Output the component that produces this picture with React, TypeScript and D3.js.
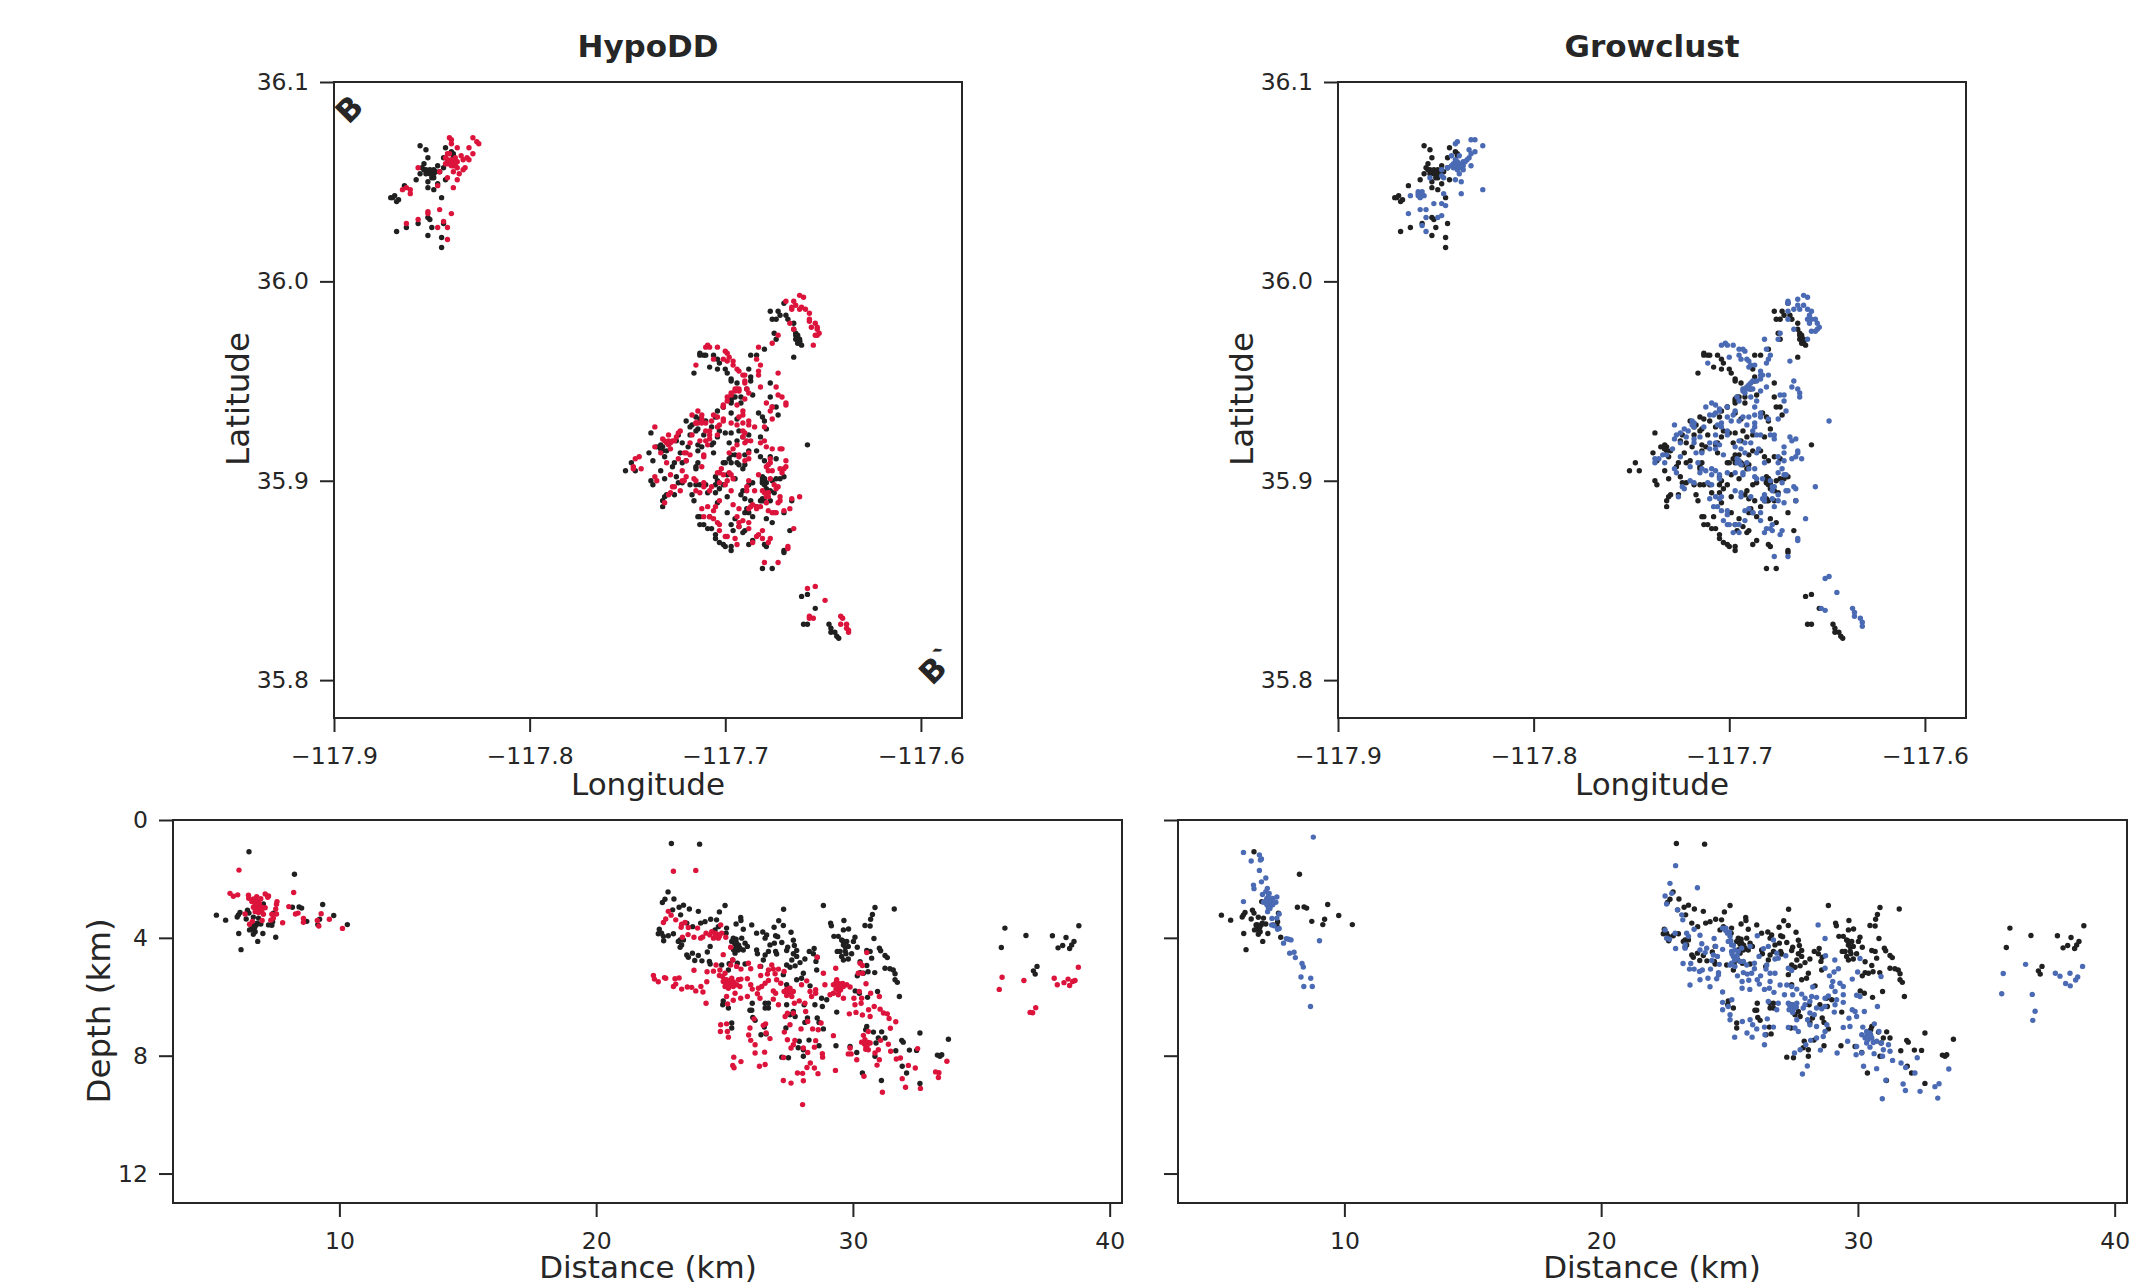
import React, { useEffect, useRef } from 'react';
import * as d3 from 'd3';

type Pair = [number, number];

const lonTicks = [-117.9, -117.8, -117.7, -117.6];
const latTicks = [36.1, 36.0, 35.9, 35.8];
const distTicks = [10, 20, 30, 40];
const depthTicks = [0, 4, 8, 12];

// routine catalog, map view (lon, lat)
const catalogMap: Pair[] = [
  [-117.856,36.068],[-117.853,36.066],[-117.843,36.067],[-117.839,36.064],[-117.852,36.062],[-117.844,36.062],[-117.854,36.059],[-117.855,36.057],[-117.847,36.058],[-117.844,36.057],
  [-117.854,36.056],[-117.852,36.055],[-117.850,36.055],[-117.849,36.056],[-117.851,36.054],[-117.856,36.054],[-117.850,36.052],[-117.849,36.052],[-117.846,36.055],[-117.858,36.051],
  [-117.852,36.050],[-117.843,36.051],[-117.847,36.049],[-117.852,36.047],[-117.849,36.046],[-117.864,36.048],[-117.845,36.042],[-117.869,36.043],[-117.871,36.042],[-117.870,36.042],
  [-117.868,36.040],[-117.867,36.041],[-117.852,36.032],[-117.851,36.031],[-117.857,36.029],[-117.863,36.027],[-117.868,36.025],[-117.850,36.027],[-117.844,36.029],[-117.852,36.023],
  [-117.845,36.022],[-117.845,36.017],[-117.840,36.065],[-117.839,36.063],
  [-117.853,36.056],[-117.851,36.056],[-117.848,36.055],[-117.853,36.054],[-117.849,36.054],
  [-117.670,35.989],[-117.677,35.985],[-117.673,35.985],[-117.672,35.983],[-117.676,35.981],[-117.674,35.981],[-117.669,35.983],[-117.668,35.981],[-117.665,35.979],[-117.665,35.976],
  [-117.664,35.974],[-117.663,35.973],[-117.664,35.971],[-117.662,35.971],[-117.662,35.970],[-117.661,35.968],[-117.663,35.969],[-117.675,35.974],[-117.674,35.971],[-117.680,35.966],
  [-117.684,35.963],[-117.687,35.963],[-117.665,35.962],[-117.713,35.964],[-117.713,35.963],[-117.711,35.963],[-117.710,35.963],[-117.706,35.963],[-117.704,35.961],[-117.703,35.959],
  [-117.708,35.957],[-117.704,35.956],[-117.700,35.956],[-117.699,35.954],[-117.697,35.951],[-117.697,35.950],[-117.716,35.954],[-117.688,35.956],[-117.687,35.952],[-117.687,35.950],
  [-117.677,35.949],[-117.694,35.949],[-117.689,35.946],[-117.686,35.943],[-117.677,35.942],[-117.692,35.942],[-117.697,35.940],[-117.695,35.942],[-117.692,35.939],[-117.697,35.939],
  [-117.701,35.937],[-117.704,35.935],[-117.705,35.932],[-117.697,35.934],[-117.694,35.931],[-117.683,35.934],[-117.681,35.932],[-117.680,35.930],[-117.673,35.933],[-117.674,35.937],
  [-117.679,35.926],[-117.676,35.937],[-117.713,35.931],[-117.715,35.932],[-117.720,35.930],[-117.714,35.926],[-117.715,35.925],[-117.718,35.927],[-117.717,35.928],[-117.738,35.924],
  [-117.710,35.930],[-117.707,35.927],[-117.703,35.925],[-117.700,35.924],[-117.697,35.924],[-117.693,35.925],[-117.688,35.923],[-117.682,35.922],[-117.684,35.915],[-117.682,35.912],
  [-117.680,35.910],[-117.674,35.911],[-117.677,35.912],[-117.670,35.902],[-117.658,35.918],[-117.688,35.915],[-117.694,35.920],[-117.698,35.919],[-117.691,35.922],[-117.707,35.918],
  [-117.706,35.919],[-117.706,35.914],[-117.704,35.922],[-117.711,35.923],[-117.718,35.923],[-117.722,35.919],[-117.723,35.914],[-117.719,35.917],[-117.722,35.909],[-117.720,35.910],
  [-117.726,35.909],[-117.727,35.907],[-117.733,35.905],[-117.731,35.901],[-117.725,35.902],[-117.737,35.910],[-117.739,35.914],[-117.731,35.912],[-117.733,35.916],[-117.733,35.918],
  [-117.735,35.917],[-117.732,35.915],[-117.730,35.915],[-117.725,35.920],[-117.724,35.923],[-117.746,35.905],[-117.748,35.909],[-117.751,35.905],[-117.714,35.918],[-117.712,35.917],
  [-117.714,35.915],[-117.714,35.909],[-117.715,35.907],[-117.715,35.906],[-117.701,35.909],[-117.700,35.909],[-117.698,35.911],[-117.697,35.913],[-117.695,35.913],[-117.691,35.906],
  [-117.690,35.908],[-117.690,35.913],[-117.697,35.909],[-117.694,35.909],[-117.693,35.908],[-117.738,35.900],[-117.737,35.898],[-117.705,35.902],[-117.704,35.900],[-117.699,35.903],
  [-117.695,35.901],[-117.724,35.899],[-117.722,35.899],[-117.718,35.898],[-117.715,35.898],[-117.713,35.898],[-117.710,35.898],[-117.705,35.898],[-117.701,35.898],[-117.703,35.896],
  [-117.705,35.894],[-117.709,35.894],[-117.717,35.893],[-117.716,35.890],[-117.726,35.893],[-117.731,35.892],[-117.730,35.893],[-117.732,35.890],[-117.732,35.887],[-117.704,35.889],
  [-117.699,35.892],[-117.691,35.895],[-117.692,35.893],[-117.690,35.891],[-117.686,35.899],[-117.681,35.902],[-117.680,35.900],[-117.681,35.899],[-117.672,35.901],[-117.674,35.901],
  [-117.676,35.900],[-117.679,35.896],[-117.681,35.891],[-117.682,35.890],[-117.677,35.890],[-117.684,35.887],[-117.687,35.890],[-117.689,35.886],[-117.690,35.884],[-117.688,35.884],
  [-117.686,35.882],[-117.699,35.884],[-117.714,35.882],[-117.713,35.882],[-117.708,35.882],[-117.713,35.878],[-117.711,35.878],[-117.709,35.876],[-117.707,35.876],[-117.705,35.873],
  [-117.705,35.871],[-117.703,35.869],[-117.701,35.868],[-117.700,35.867],[-117.697,35.867],[-117.697,35.865],[-117.697,35.878],[-117.696,35.875],[-117.695,35.881],[-117.691,35.874],
  [-117.690,35.875],[-117.693,35.877],[-117.686,35.870],[-117.688,35.868],[-117.680,35.868],[-117.679,35.867],[-117.679,35.881],[-117.676,35.879],[-117.670,35.884],[-117.667,35.875],
  [-117.670,35.865],[-117.670,35.864],[-117.681,35.856],[-117.676,35.856],[-117.666,35.890],[-117.677,35.895],[-117.675,35.894],[-117.688,35.898],[-117.681,35.900],[-117.680,35.901],
  [-117.679,35.899],[-117.663,35.972],[-117.662,35.970],[-117.664,35.973],[-117.662,35.969],[-117.681,35.901],[-117.680,35.901],[-117.681,35.899],[-117.680,35.898],[-117.697,35.941],
  [-117.696,35.942],[-117.701,35.937],[-117.732,35.917],[-117.733,35.916],[-117.681,35.890],[-117.680,35.890],
  [-117.661,35.842],[-117.658,35.843],[-117.654,35.836],[-117.660,35.828],[-117.658,35.828],[-117.647,35.828],[-117.646,35.826],[-117.646,35.824],[-117.644,35.824],[-117.643,35.822],[-117.642,35.821],
];

// hypoDD relocations, map view (lon, lat)
const hypoddMap: Pair[] = [
  [-117.841,36.072],[-117.840,36.071],[-117.840,36.069],[-117.829,36.072],[-117.827,36.070],[-117.826,36.069],[-117.837,36.067],[-117.831,36.067],[-117.829,36.064],[-117.842,36.064],
  [-117.841,36.064],[-117.835,36.063],[-117.832,36.062],[-117.831,36.061],[-117.843,36.062],[-117.842,36.061],[-117.843,36.059],[-117.840,36.061],[-117.839,36.060],[-117.841,36.059],
  [-117.838,36.060],[-117.839,36.058],[-117.837,36.060],[-117.834,36.061],[-117.837,36.057],[-117.833,36.057],[-117.834,36.056],[-117.836,36.054],[-117.839,36.055],[-117.857,36.057],
  [-117.846,36.055],[-117.842,36.052],[-117.837,36.051],[-117.847,36.048],[-117.839,36.047],[-117.865,36.046],[-117.863,36.047],[-117.861,36.046],[-117.861,36.044],[-117.846,36.036],
  [-117.852,36.035],[-117.852,36.034],[-117.840,36.034],[-117.857,36.031],[-117.863,36.029],[-117.844,36.030],[-117.847,36.027],[-117.842,36.027],[-117.842,36.021],
  [-117.841,36.060],[-117.838,36.058],[-117.840,36.058],[-117.842,36.059],[-117.838,36.062],
  [-117.662,35.993],[-117.660,35.992],[-117.669,35.990],[-117.665,35.990],[-117.666,35.987],[-117.666,35.986],[-117.664,35.988],[-117.662,35.986],[-117.661,35.987],[-117.659,35.986],
  [-117.657,35.984],[-117.657,35.981],[-117.657,35.980],[-117.654,35.979],[-117.653,35.977],[-117.656,35.977],[-117.653,35.976],[-117.652,35.974],[-117.654,35.973],[-117.653,35.973],
  [-117.655,35.968],[-117.667,35.979],[-117.665,35.976],[-117.673,35.973],[-117.676,35.969],[-117.683,35.967],[-117.710,35.967],[-117.709,35.968],[-117.708,35.967],[-117.704,35.967],
  [-117.700,35.965],[-117.699,35.964],[-117.698,35.962],[-117.706,35.961],[-117.701,35.961],[-117.699,35.960],[-117.696,35.960],[-117.696,35.958],[-117.694,35.956],[-117.693,35.955],
  [-117.715,35.958],[-117.684,35.961],[-117.682,35.958],[-117.683,35.955],[-117.683,35.953],[-117.691,35.953],[-117.690,35.953],[-117.690,35.950],[-117.690,35.949],[-117.689,35.946],
  [-117.688,35.944],[-117.673,35.954],[-117.682,35.947],[-117.674,35.947],[-117.673,35.943],[-117.671,35.942],[-117.669,35.939],[-117.669,35.938],[-117.679,35.939],[-117.677,35.935],
  [-117.676,35.937],[-117.676,35.931],[-117.690,35.941],[-117.694,35.946],[-117.695,35.945],[-117.693,35.946],[-117.697,35.944],[-117.699,35.942],[-117.699,35.940],[-117.701,35.938],
  [-117.701,35.937],[-117.694,35.938],[-117.691,35.935],[-117.691,35.933],[-117.693,35.932],[-117.714,35.935],[-117.717,35.933],[-117.712,35.933],[-117.712,35.931],[-117.706,35.933],
  [-117.704,35.932],[-117.701,35.931],[-117.701,35.930],[-117.715,35.929],[-117.714,35.929],[-117.712,35.929],[-117.710,35.929],[-117.707,35.930],[-117.703,35.928],[-117.708,35.925],
  [-117.704,35.927],[-117.697,35.929],[-117.694,35.928],[-117.691,35.929],[-117.688,35.930],[-117.688,35.928],[-117.685,35.927],[-117.680,35.927],[-117.710,35.925],[-117.708,35.923],
  [-117.704,35.923],[-117.708,35.921],[-117.710,35.920],[-117.709,35.918],[-117.713,35.920],[-117.718,35.919],[-117.723,35.925],[-117.724,35.924],[-117.725,35.922],[-117.729,35.923],
  [-117.736,35.927],[-117.732,35.921],[-117.731,35.920],[-117.729,35.919],[-117.727,35.920],[-117.726,35.920],[-117.729,35.918],[-117.728,35.916],[-117.736,35.917],[-117.733,35.914],
  [-117.746,35.911],[-117.744,35.912],[-117.747,35.907],[-117.747,35.906],[-117.743,35.906],[-117.730,35.909],[-117.724,35.911],[-117.721,35.914],[-117.720,35.914],[-117.718,35.913],
  [-117.720,35.910],[-117.712,35.907],[-117.711,35.913],[-117.711,35.912],[-117.717,35.923],[-117.691,35.925],[-117.690,35.924],[-117.691,35.922],[-117.689,35.920],[-117.687,35.920],
  [-117.690,35.919],[-117.694,35.918],[-117.696,35.916],[-117.693,35.913],[-117.698,35.914],[-117.693,35.912],[-117.688,35.914],[-117.688,35.911],[-117.690,35.910],[-117.682,35.919],
  [-117.680,35.920],[-117.679,35.917],[-117.676,35.916],[-117.672,35.916],[-117.671,35.916],[-117.677,35.911],[-117.677,35.909],[-117.678,35.908],[-117.679,35.907],[-117.678,35.905],
  [-117.676,35.905],[-117.683,35.903],[-117.669,35.910],[-117.672,35.906],[-117.670,35.906],[-117.669,35.907],[-117.671,35.904],[-117.728,35.903],[-117.722,35.905],[-117.736,35.902],
  [-117.735,35.900],[-117.720,35.902],[-117.721,35.900],[-117.722,35.900],[-117.716,35.901],[-117.715,35.900],[-117.711,35.899],[-117.711,35.897],[-117.715,35.895],[-117.713,35.894],
  [-117.702,35.906],[-117.703,35.904],[-117.704,35.904],[-117.701,35.903],[-117.698,35.904],[-117.697,35.903],[-117.696,35.901],[-117.699,35.900],[-117.700,35.898],[-117.703,35.899],
  [-117.707,35.897],[-117.708,35.895],[-117.697,35.895],[-117.727,35.897],[-117.726,35.897],[-117.723,35.895],[-117.728,35.894],[-117.729,35.893],[-117.731,35.889],[-117.689,35.897],
  [-117.688,35.900],[-117.685,35.895],[-117.689,35.895],[-117.681,35.895],[-117.680,35.894],[-117.678,35.894],[-117.677,35.901],[-117.675,35.898],[-117.673,35.897],[-117.674,35.896],
  [-117.678,35.892],[-117.672,35.892],[-117.672,35.890],[-117.673,35.889],[-117.666,35.891],[-117.662,35.892],[-117.667,35.886],[-117.703,35.890],[-117.712,35.886],[-117.709,35.887],
  [-117.706,35.885],[-117.705,35.887],[-117.696,35.888],[-117.693,35.886],[-117.711,35.882],[-117.708,35.882],[-117.706,35.881],[-117.704,35.879],[-117.703,35.878],[-117.694,35.882],
  [-117.691,35.880],[-117.693,35.879],[-117.693,35.877],[-117.688,35.879],[-117.688,35.876],[-117.700,35.872],[-117.699,35.872],[-117.695,35.871],[-117.694,35.868],[-117.703,35.875],
  [-117.684,35.887],[-117.686,35.888],[-117.688,35.886],[-117.682,35.887],[-117.679,35.889],[-117.678,35.885],[-117.676,35.884],[-117.675,35.884],[-117.674,35.884],[-117.670,35.885],
  [-117.681,35.875],[-117.683,35.873],[-117.684,35.872],[-117.681,35.871],[-117.686,35.869],[-117.677,35.871],[-117.678,35.869],[-117.665,35.876],[-117.668,35.867],[-117.668,35.866],
  [-117.673,35.859],[-117.680,35.859],[-117.695,35.946],[-117.693,35.945],[-117.697,35.943],[-117.729,35.920],[-117.730,35.919],[-117.728,35.919],[-117.715,35.929],[-117.678,35.894],
  [-117.679,35.892],[-117.687,35.887],[-117.684,35.886],
  [-117.658,35.846],[-117.654,35.847],[-117.649,35.840],[-117.657,35.832],[-117.657,35.831],[-117.655,35.831],[-117.641,35.832],[-117.640,35.831],[-117.641,35.828],[-117.638,35.828],[-117.638,35.826],[-117.637,35.825],[-117.637,35.824],
];

// growclust relocations, map view (lon, lat)
const growclustMap: Pair[] = [
  [-117.840,36.069],[-117.839,36.070],[-117.832,36.071],[-117.830,36.071],[-117.826,36.068],[-117.833,36.066],[-117.832,36.064],[-117.830,36.065],[-117.842,36.063],[-117.838,36.063],
  [-117.833,36.062],[-117.834,36.061],[-117.835,36.060],[-117.840,36.061],[-117.839,36.060],[-117.838,36.059],[-117.836,36.060],[-117.842,36.058],[-117.840,36.058],[-117.839,36.058],
  [-117.837,36.057],[-117.844,36.057],[-117.844,36.057],[-117.841,36.057],[-117.836,36.056],[-117.832,36.058],[-117.847,36.056],[-117.838,36.054],[-117.853,36.052],[-117.847,36.053],
  [-117.846,36.052],[-117.840,36.051],[-117.837,36.050],[-117.826,36.046],[-117.837,36.044],[-117.859,36.045],[-117.857,36.045],[-117.859,36.043],[-117.858,36.042],[-117.856,36.043],
  [-117.863,36.043],[-117.846,36.044],[-117.851,36.039],[-117.847,36.039],[-117.845,36.038],[-117.858,36.036],[-117.855,36.036],[-117.864,36.034],[-117.847,36.033],[-117.849,36.032],
  [-117.855,36.032],[-117.857,36.028],[-117.855,36.025],
  [-117.840,36.059],[-117.838,36.058],[-117.836,36.058],[-117.841,36.059],[-117.839,36.056],[-117.859,36.044],[-117.857,36.043],
  [-117.662,35.993],[-117.665,35.991],[-117.660,35.992],[-117.670,35.990],[-117.670,35.989],[-117.665,35.988],[-117.662,35.988],[-117.664,35.986],[-117.667,35.986],[-117.660,35.986],
  [-117.670,35.985],[-117.658,35.985],[-117.659,35.983],[-117.660,35.981],[-117.658,35.981],[-117.656,35.981],[-117.670,35.981],[-117.659,35.979],[-117.655,35.979],[-117.654,35.977],
  [-117.667,35.976],[-117.655,35.976],[-117.658,35.975],[-117.656,35.975],[-117.660,35.971],[-117.674,35.974],[-117.675,35.971],[-117.682,35.971],
  [-117.704,35.968],[-117.702,35.969],[-117.701,35.968],[-117.698,35.968],[-117.695,35.966],[-117.693,35.966],[-117.692,35.965],[-117.681,35.966],[-117.679,35.963],[-117.700,35.962],
  [-117.695,35.963],[-117.694,35.961],[-117.691,35.961],[-117.690,35.960],[-117.680,35.961],[-117.681,35.959],[-117.711,35.959],[-117.669,35.960],[-117.689,35.958],[-117.687,35.958],
  [-117.690,35.957],[-117.684,35.955],[-117.684,35.953],[-117.680,35.953],[-117.683,35.953],[-117.667,35.950],[-117.668,35.947],[-117.665,35.946],[-117.664,35.944],[-117.664,35.942],
  [-117.674,35.943],[-117.672,35.943],[-117.672,35.940],
  [-117.684,35.951],[-117.686,35.950],[-117.688,35.950],[-117.689,35.949],[-117.691,35.947],[-117.688,35.946],[-117.693,35.946],[-117.693,35.945],[-117.692,35.944],[-117.684,35.945],
  [-117.681,35.947],[-117.689,35.942],[-117.696,35.942],[-117.695,35.940],[-117.686,35.940],[-117.687,35.937],[-117.671,35.935],[-117.675,35.931],[-117.709,35.939],[-117.707,35.938],
  [-117.712,35.937],[-117.705,35.936],[-117.701,35.937],[-117.710,35.933],[-117.708,35.933],[-117.707,35.934],[-117.705,35.935],[-117.701,35.932],[-117.697,35.935],[-117.698,35.933],
  [-117.693,35.932],[-117.690,35.932],[-117.687,35.933],[-117.684,35.934],[-117.684,35.932],[-117.680,35.931],[-117.704,35.929],[-117.706,35.928],[-117.704,35.927],[-117.699,35.930],
  [-117.695,35.930],[-117.691,35.928],[-117.687,35.929],[-117.687,35.927],[-117.728,35.928],[-117.723,35.926],[-117.719,35.930],[-117.718,35.929],[-117.718,35.927],[-117.721,35.925],
  [-117.725,35.924],[-117.727,35.923],[-117.728,35.921],[-117.722,35.922],[-117.715,35.922],[-117.718,35.921],[-117.718,35.919],[-117.725,35.919],[-117.713,35.927],[-117.707,35.923],
  [-117.701,35.925],[-117.701,35.923],[-117.688,35.925],[-117.686,35.923],[-117.684,35.923],[-117.679,35.923],[-117.677,35.923],[-117.677,35.921],[-117.669,35.922],[-117.668,35.920],
  [-117.666,35.921],[-117.649,35.930],[-117.710,35.919],[-117.707,35.919],[-117.705,35.918],[-117.710,35.916],[-117.707,35.916],[-117.695,35.920],[-117.697,35.917],[-117.692,35.919],
  [-117.689,35.919],[-117.694,35.916],[-117.692,35.914],[-117.685,35.916],[-117.686,35.914],[-117.672,35.917],[-117.717,35.914],[-117.714,35.914],[-117.729,35.916],[-117.734,35.913],
  [-117.732,35.913],[-117.725,35.912],[-117.736,35.911],[-117.738,35.911],[-117.738,35.909],[-117.733,35.909],[-117.703,35.913],[-117.716,35.909],[-117.720,35.907],[-117.728,35.906],
  [-117.727,35.904],[-117.714,35.906],[-117.715,35.904],[-117.712,35.905],[-117.709,35.906],[-117.707,35.905],[-117.709,35.903],[-117.705,35.903],[-117.701,35.904],[-117.705,35.901],
  [-117.696,35.911],[-117.695,35.910],[-117.696,35.909],[-117.694,35.908],[-117.691,35.909],[-117.690,35.906],[-117.687,35.906],[-117.697,35.904],[-117.693,35.904],[-117.693,35.903],
  [-117.687,35.902],[-117.682,35.909],[-117.675,35.909],[-117.675,35.912],[-117.672,35.914],[-117.672,35.910],[-117.668,35.911],[-117.666,35.912],[-117.665,35.915],[-117.665,35.914],
  [-117.663,35.911],[-117.673,35.906],[-117.675,35.904],[-117.672,35.903],[-117.671,35.903],[-117.673,35.899],[-117.683,35.901],[-117.686,35.901],[-117.679,35.900],[-117.656,35.897],
  [-117.667,35.897],[-117.666,35.896],[-117.670,35.895],[-117.671,35.895],[-117.675,35.893],[-117.677,35.897],[-117.678,35.895],[-117.720,35.900],[-117.718,35.899],[-117.724,35.897],
  [-117.723,35.896],[-117.711,35.899],[-117.709,35.898],[-117.726,35.892],[-117.697,35.895],[-117.694,35.894],[-117.694,35.892],[-117.689,35.892],[-117.710,35.891],[-117.707,35.892],
  [-117.705,35.891],[-117.704,35.892],[-117.682,35.893],[-117.683,35.891],[-117.682,35.890],[-117.678,35.891],[-117.675,35.890],[-117.672,35.889],[-117.666,35.890],[-117.708,35.887],
  [-117.706,35.887],[-117.704,35.885],[-117.701,35.885],[-117.701,35.883],[-117.692,35.885],[-117.690,35.886],[-117.688,35.884],[-117.684,35.884],[-117.684,35.880],[-117.692,35.880],
  [-117.677,35.887],[-117.661,35.881],[-117.703,35.880],[-117.701,35.878],[-117.700,35.878],[-117.697,35.878],[-117.695,35.878],[-117.695,35.874],[-117.698,35.874],[-117.681,35.876],
  [-117.682,35.874],[-117.678,35.878],[-117.679,35.876],[-117.678,35.875],[-117.673,35.875],[-117.674,35.873],[-117.665,35.871],[-117.665,35.870],[-117.677,35.862],[-117.670,35.862],
  [-117.690,35.948],[-117.692,35.946],[-117.690,35.946],[-117.719,35.928],[-117.695,35.909],[-117.678,35.897],[-117.682,35.892],
  [-117.649,35.852],[-117.651,35.851],[-117.645,35.844],[-117.653,35.836],[-117.651,35.835],[-117.637,35.836],[-117.636,35.834],[-117.636,35.832],[-117.633,35.831],[-117.632,35.829],[-117.632,35.827],
];

// routine catalog, cross section (distance km, depth km)
const catalogSection: Pair[] = [
  [6.48,1.08],[8.25,1.84],[9.35,2.87],[8.17,2.96],[8.43,2.95],[8.53,2.99],[9.78,3.24],[10.31,3.55],[9.23,3.37],[8.73,3.44],[9.16,3.55],[5.21,3.23],[5.57,3.40],[6.02,3.29],[6.07,3.22],
  [6.13,3.14],[6.42,3.06],[6.48,3.16],[6.37,3.36],[7.04,2.85],[6.78,2.77],[6.65,3.30],[6.85,3.33],[6.94,3.53],[6.76,3.56],[6.63,3.62],[6.50,3.73],[6.59,3.71],[6.72,3.79],[6.65,3.88],
  [6.08,3.85],[7.02,3.85],[6.82,4.12],[7.52,3.98],[6.17,4.40],[7.24,3.56],[7.37,3.57],[7.40,3.45],[7.43,3.16],[6.56,3.56],[6.60,3.55],[6.70,3.65],[6.80,3.50],
  [22.93,0.80],[24.03,0.82],[22.80,2.44],[23.03,2.68],[22.68,2.69],[22.58,2.80],[23.40,2.89],[23.23,2.96],[22.98,3.05],[23.63,3.02],[23.98,3.10],[25.02,2.90],[24.80,3.12],[27.30,3.03],
  [28.85,2.90],[30.86,2.97],[31.61,3.02],[23.29,3.22],[30.76,3.21],[30.69,3.37],[24.46,3.37],[24.69,3.39],[24.24,3.45],[24.07,3.50],[23.53,3.50],[23.76,3.62],[25.63,3.31],[25.64,3.41],
  [25.45,3.53],[27.11,3.42],[29.65,3.41],[29.13,3.50],[29.16,3.59],[27.29,3.58],[26.06,3.56],[30.47,3.58],[30.67,3.60],[29.83,3.70],[29.63,3.73],[26.93,3.64],[24.76,3.62],[25.08,3.67],
  [24.63,3.73],[25.73,3.71],[25.06,3.84],[22.46,3.71],[22.42,3.86],[22.55,3.84],[22.62,3.95],[22.81,3.93],[23.01,3.86],[22.63,4.10],[23.27,4.07],[23.20,4.12],[23.40,4.07],[23.33,4.24],
  [23.27,4.32],[26.25,3.84],[26.49,3.80],[26.64,3.90],[26.58,4.01],[26.99,3.93],[27.07,3.96],[27.59,3.81],[27.68,4.08],[25.34,4.01],[25.28,4.12],[25.47,4.18],[25.67,4.01],[25.80,4.18],
  [25.89,4.29],[25.73,4.41],[25.54,4.41],[25.41,4.52],[25.32,4.75],[24.44,4.29],[24.33,4.48],[23.53,4.58],[23.75,4.52],[23.59,4.66],[23.98,4.60],[23.84,4.77],[24.12,4.78],[24.41,4.80],
  [24.44,4.89],[24.89,4.92],[25.18,4.88],[25.50,4.86],[25.80,4.89],[25.15,5.09],[26.25,4.41],[26.28,4.54],[26.77,4.24],[26.94,4.18],[27.23,4.16],[27.46,4.32],[27.42,4.43],[27.72,4.26],
  [27.81,4.43],[26.71,4.46],[26.58,4.58],[26.51,4.75],[26.41,4.97],[26.99,4.46],[27.03,4.55],[27.68,4.54],[27.81,4.63],[28.13,4.72],[27.62,4.75],[27.42,4.92],[27.55,5.00],[27.75,4.95],
  [27.94,4.84],[28.30,4.46],[28.49,4.36],[28.46,4.54],[28.61,4.66],[28.56,4.80],[28.59,5.09],[29.26,3.95],[29.43,3.95],[29.56,4.07],[29.76,4.12],[30.08,3.98],[30.02,4.12],[29.63,4.24],
  [29.82,4.29],[30.17,4.32],[29.50,4.46],[29.39,4.46],[29.73,4.54],[29.95,4.54],[29.56,4.63],[29.63,4.75],[29.82,4.72],[30.82,4.02],[31.03,4.35],[31.08,4.44],[30.67,4.46],[30.54,4.43],
  [30.73,4.69],[31.25,4.60],[31.34,4.67],[30.28,4.81],[30.54,4.94],[31.25,5.03],[31.44,5.05],[31.57,5.09],[31.64,5.22],[31.64,5.42],[31.73,5.51],[31.81,5.99],[30.85,5.18],[30.28,5.18],
  [30.17,5.29],[30.59,5.15],[30.41,5.20],[30.96,5.82],[30.57,6.02],[30.09,5.80],[30.25,5.88],[27.29,5.25],[27.81,5.42],[28.07,5.20],[28.00,5.37],[27.42,5.59],[28.33,5.63],[28.78,6.05],
  [28.98,6.10],[26.08,6.22],[24.95,6.14],[24.93,6.27],[25.15,6.38],[25.99,6.46],[26.06,6.46],[26.58,6.22],[26.71,6.22],[26.58,6.38],[26.71,6.38],[27.42,6.27],[28.10,6.27],[28.52,6.27],
  [28.81,6.33],[27.68,6.50],[27.55,6.61],[27.75,6.67],[26.10,6.70],[26.19,6.80],[25.28,6.89],[25.28,7.06],[26.55,7.03],[26.42,7.29],[26.62,7.26],[27.39,7.06],[28.13,6.87],[28.23,6.72],
  [28.61,6.72],[28.68,6.87],[28.85,7.09],[29.37,6.52],[30.54,7.01],[30.50,7.12],[30.80,7.20],[31.12,7.19],[30.99,7.40],[31.25,7.40],[30.90,7.57],[31.90,7.48],[31.96,7.54],[32.61,7.23],
  [33.72,7.44],[29.34,7.66],[28.68,7.66],[28.29,7.47],[27.91,7.51],[27.87,7.73],[28.07,7.80],[28.07,8.02],[27.23,8.05],[27.49,8.07],[29.89,7.69],[30.15,7.89],[30.86,8.02],[31.67,7.83],
  [32.20,7.81],[32.48,7.82],[33.29,7.98],[33.39,8.02],[33.46,7.97],[31.92,8.36],[32.09,8.59],[32.61,8.94],[31.11,8.84],[30.37,8.59],
  [25.40,4.20],[25.45,4.30],[25.55,4.25],[25.35,4.40],[25.60,4.35],[25.45,4.05],[29.70,4.30],[29.60,4.10],[29.70,4.45],
  [35.92,3.67],[35.78,4.33],[36.74,3.92],[37.77,3.93],[38.30,3.99],[38.80,3.59],[38.61,4.12],[38.52,4.24],[38.17,4.26],[37.99,4.34],[38.44,4.36],[37.17,4.97],[37.03,5.12],[37.10,5.23],
];

// hypoDD relocations, cross section (distance km, depth km)
const hypoddSection: Pair[] = [
  [6.09,1.70],[5.74,2.49],[5.87,2.59],[6.04,2.54],[6.46,2.55],[6.47,2.66],[6.78,2.60],[6.94,2.67],[6.65,2.68],[6.59,2.77],[7.11,2.51],[7.24,2.58],[7.21,2.62],[7.57,2.77],[7.55,2.86],
  [8.22,2.46],[8.03,2.94],[6.72,2.88],[6.89,2.83],[6.65,2.96],[6.81,2.99],[6.98,2.96],[7.11,2.98],[6.72,3.11],[6.85,3.14],[6.98,3.11],[7.04,3.20],[7.52,3.02],[7.55,3.19],[7.37,3.20],
  [6.33,3.19],[7.43,3.33],[7.33,3.40],[6.99,3.41],[6.61,3.44],[6.50,3.54],[7.79,3.49],[8.29,3.19],[8.39,3.16],[8.60,3.34],[8.60,3.47],[9.29,3.18],[9.14,3.41],[9.20,3.60],[9.61,3.37],[10.12,3.68],
  [6.80,2.85],[6.90,2.95],[6.85,3.05],[6.75,3.00],[6.95,3.05],[6.75,2.75],
  [23.01,1.74],[23.88,1.71],[22.81,3.10],[22.92,3.23],[22.71,3.36],[22.62,3.48],[23.10,3.39],[23.46,3.48],[23.33,3.54],[23.31,3.64],[23.59,3.65],[23.95,3.67],[24.85,3.56],[23.36,3.98],
  [23.58,3.89],[23.81,3.98],[24.07,4.01],[24.15,3.97],[24.28,3.84],[24.50,3.79],[24.43,3.90],[24.63,3.84],[24.76,3.90],[24.89,3.84],[24.57,4.01],[24.76,4.01],[25.05,3.98],[25.24,4.32],
  [24.95,4.57],[30.54,4.50],[28.61,4.66],[25.32,4.75],[24.67,4.92],[23.81,5.10],[24.32,5.15],[24.57,5.13],[24.82,5.09],[24.92,5.31],[24.80,5.28],[25.02,5.20],[25.24,4.92],[25.47,4.97],
  [25.64,5.06],[25.93,4.86],[26.02,5.05],[26.38,4.97],[26.84,4.92],[26.71,5.09],[26.90,5.06],[27.10,5.06],[26.41,5.28],[26.67,5.23],[26.97,5.22],[27.32,5.14],[22.23,5.28],[22.27,5.40],
  [22.42,5.49],[22.66,5.35],[22.71,5.37],[23.07,5.39],[23.23,5.36],[23.10,5.57],[23.01,5.65],[23.33,5.74],[23.55,5.67],[23.72,5.68],[23.88,5.80],[24.08,5.65],[24.16,5.84],[24.31,5.49],
  [24.28,6.22],[25.08,5.42],[24.95,5.48],[25.21,5.54],[25.02,5.65],[25.15,5.71],[25.34,5.65],[25.28,5.37],[25.54,5.42],[25.64,5.40],[25.47,5.59],[25.60,5.65],[25.41,5.88],[25.08,5.99],
  [25.34,6.12],[25.63,6.05],[25.12,6.24],[25.89,5.39],[26.02,5.59],[26.08,5.74],[25.89,5.99],[26.32,5.71],[26.45,5.65],[26.58,5.54],[26.71,5.45],[26.28,5.90],[26.38,6.05],[26.90,5.80],
  [26.99,5.88],[26.90,6.08],[27.10,6.27],[27.03,5.42],[27.19,5.54],[27.32,5.82],[27.42,5.74],[27.55,5.71],[27.68,5.82],[27.42,5.96],[27.62,5.99],[28.00,5.59],[28.20,5.46],[27.72,6.22],
  [27.91,6.14],[28.13,6.22],[28.16,6.50],[27.68,6.56],[27.45,6.56],[27.36,6.67],[28.33,5.82],[28.55,5.76],[28.39,5.99],[28.55,5.88],[28.91,5.59],[29.11,5.93],[29.24,5.88],[29.24,5.59],
  [29.37,5.42],[29.47,5.56],[29.34,5.74],[29.52,5.76],[29.63,5.65],[29.76,5.59],[29.89,5.67],[29.43,5.93],[29.63,6.05],[28.85,5.20],[29.33,5.03],[30.28,4.86],[30.37,4.94],[30.21,5.20],
  [30.37,5.20],[30.51,5.56],[30.25,5.82],[30.34,6.05],[30.04,6.05],[30.08,6.27],[30.32,6.22],[30.69,5.88],[31.03,5.99],[30.83,6.33],[31.06,6.42],[30.61,6.44],[30.12,6.53],[29.86,6.58],
  [30.37,6.62],[30.67,6.67],[31.19,6.55],[31.34,6.58],[31.41,6.74],[31.67,6.85],[31.46,7.07],[24.85,6.95],[25.08,6.92],[24.84,7.18],[25.11,7.18],[25.15,7.37],[25.99,7.06],[26.15,6.75],
  [26.51,6.97],[26.60,6.92],[25.94,7.30],[26.02,7.48],[26.19,7.63],[26.19,7.91],[26.56,7.88],[26.77,7.42],[26.62,7.23],[25.36,8.05],[25.64,8.20],[25.32,8.33],[25.37,8.41],[26.36,8.36],
  [26.58,8.30],[27.33,7.20],[27.45,7.46],[27.98,7.09],[28.43,7.09],[28.65,7.12],[28.76,6.89],[28.24,6.84],[27.55,6.95],[27.74,7.48],[27.68,7.63],[27.59,7.74],[28.07,7.74],[28.24,7.89],
  [28.50,7.71],[28.55,7.49],[28.81,7.93],[28.82,8.05],[27.30,8.06],[29.24,7.32],[28.34,8.25],[28.21,8.40],[28.50,8.42],[28.64,8.61],[27.84,8.59],[28.04,8.60],[27.29,8.84],[27.59,8.93],
  [28.07,8.85],[28.04,9.66],[29.32,8.50],[29.89,7.74],[29.82,7.94],[29.93,7.94],[30.15,8.14],[30.41,7.31],[30.34,7.54],[30.47,7.46],[30.60,7.18],[30.51,7.69],[30.67,7.57],[30.60,7.80],
  [30.86,7.91],[30.99,7.80],[31.08,7.48],[31.38,7.61],[31.47,7.85],[31.03,8.14],[30.94,8.32],[31.69,8.11],[31.85,8.08],[32.16,8.33],[32.43,8.42],[32.52,7.76],[30.43,8.70],[31.92,8.78],
  [32.63,9.11],[32.05,9.07],[31.15,9.24],[33.33,8.74],[33.22,8.55],[33.35,8.58],[33.66,8.19],
  [25.10,5.50],[25.20,5.45],[25.00,5.42],[25.15,5.60],[25.25,5.62],[25.05,5.55],[25.35,5.50],[24.70,3.88],[24.80,3.95],[24.65,3.92],[29.40,5.60],[29.50,5.68],[29.35,5.50],[29.60,5.55],
  [29.45,5.82],[30.45,7.60],[30.55,7.65],[30.60,7.55],[30.50,7.78],[27.40,5.85],[27.50,5.80],[27.55,5.90],
  [38.78,5.00],[35.81,5.34],[35.70,5.75],[36.66,5.45],[37.84,5.37],[37.96,5.59],[38.22,5.52],[38.38,5.40],[38.56,5.48],[38.65,5.45],[38.44,5.62],[37.12,6.37],[36.90,6.53],[37.00,6.54],
];

// growclust relocations, cross section (distance km, depth km)
const growclustSection: Pair[] = [
  [8.79,0.58],[6.07,1.10],[6.69,1.19],[6.77,1.32],[6.73,1.36],[6.37,1.39],[6.69,1.71],[6.94,1.97],[6.77,2.10],[6.46,2.21],[6.48,2.33],[7.00,2.32],[6.81,2.53],[6.94,2.43],[7.07,2.49],
  [7.37,2.61],[6.98,2.66],[6.85,2.79],[7.11,2.71],[7.21,2.66],[7.33,2.79],[6.07,2.77],[6.98,2.88],[7.11,2.92],[7.21,2.88],[7.04,2.99],[7.01,3.11],[7.46,3.19],[7.18,3.34],[7.37,3.33],
  [7.17,3.56],[7.26,3.59],[7.40,3.71],[7.46,3.68],[7.74,4.03],[7.83,4.05],[7.92,4.07],[7.63,4.18],[9.03,4.10],[7.87,4.52],[8.04,4.49],[8.09,4.67],[8.35,4.87],[8.40,4.99],[8.31,5.33],
  [8.69,5.37],[8.42,5.65],[8.75,5.65],[8.68,6.33],[7.05,2.55],[7.15,2.75],[7.05,2.80],[6.95,2.75],[7.10,3.00],
  [22.90,1.55],[22.68,2.15],[23.75,2.30],[22.49,2.58],[22.75,2.49],[22.55,2.85],[22.97,3.05],[23.14,3.22],[23.18,3.39],[22.49,3.73],[22.88,3.84],[22.55,4.01],[22.66,4.05],[23.33,3.84],
  [23.40,3.95],[23.62,3.71],[23.85,3.91],[22.90,4.36],[23.27,4.24],[23.27,4.35],[23.92,4.20],[24.11,4.35],[23.85,4.41],[24.05,4.50],[24.40,4.02],[24.46,4.29],[24.73,4.39],[24.37,4.58],
  [24.53,4.63],[24.31,4.77],[24.60,4.90],[23.19,4.87],[23.49,4.87],[23.44,5.06],[23.62,5.06],[23.83,5.14],[23.94,5.09],[24.26,5.06],[24.57,5.18],[24.57,5.25],[24.16,5.37],[23.85,5.42],
  [24.50,5.39],[23.46,5.60],[24.24,5.66],[24.73,3.67],[24.86,3.67],[24.92,3.84],[25.02,3.95],[24.95,4.12],[25.08,4.24],[25.21,4.41],[25.08,4.46],[25.34,4.46],[25.47,4.35],[25.80,4.29],
  [26.08,3.93],[25.15,4.63],[25.28,4.69],[25.08,4.86],[25.02,4.92],[25.41,4.80],[25.54,4.80],[25.67,4.92],[25.21,4.97],[25.97,4.86],[25.97,5.05],[25.31,5.29],[25.54,5.18],[25.69,5.23],
  [25.86,5.20],[26.21,5.29],[25.49,5.48],[25.75,5.44],[25.49,5.71],[25.79,5.75],[26.08,5.42],[26.16,5.57],[24.73,5.84],[26.36,5.75],[26.58,5.48],[26.55,5.71],[26.15,4.63],[26.32,4.37],
  [26.51,4.29],[26.71,4.07],[27.19,4.61],[26.84,4.52],[26.77,4.72],[26.90,4.69],[26.45,4.92],[26.42,5.06],[26.58,5.20],[26.77,5.20],[27.29,5.03],[27.42,5.11],[28.45,3.56],[28.72,4.02],
  [28.74,4.61],[29.10,4.75],[29.24,5.05],[28.72,5.03],[29.07,5.16],[28.89,5.29],[29.02,5.48],[29.99,5.16],[30.90,5.31],[29.78,5.40],[30.08,4.70],[26.97,5.60],[27.23,5.60],[27.42,5.65],
  [27.62,5.74],[28.24,5.67],[26.73,5.85],[27.14,5.93],[27.46,5.93],[27.81,5.91],[27.94,6.05],[28.20,5.99],[28.39,6.02],[26.51,6.16],[26.90,6.22],[27.29,6.22],[27.46,6.27],[27.62,6.22],
  [27.94,6.27],[28.13,6.16],[26.84,6.44],[27.32,6.44],[27.46,6.53],[27.87,6.38],[28.39,6.38],[28.59,6.41],[28.72,6.33],[28.13,6.55],[28.30,6.61],[28.98,5.65],[28.85,5.97],[29.11,5.82],
  [28.72,6.05],[29.30,5.54],[29.43,5.65],[29.43,5.93],[29.17,6.10],[29.43,6.19],[29.11,6.27],[29.08,6.52],[29.95,5.95],[30.08,5.99],[30.76,6.33],[29.78,6.44],[29.89,6.50],[29.95,6.67],
  [29.65,6.73],[30.25,6.50],[29.69,7.01],[29.43,7.04],[30.19,7.03],[24.73,6.19],[25.09,6.10],[24.95,6.33],[24.73,6.44],[25.02,6.61],[25.02,6.78],[25.50,6.84],[25.80,6.78],[25.90,6.95],
  [26.06,7.09],[26.47,6.75],[26.36,7.03],[26.38,7.29],[26.71,7.03],[25.68,7.23],[25.20,7.37],[25.88,7.37],[26.36,7.63],[27.29,7.04],[27.62,6.78],[27.55,7.06],[27.68,7.18],[28.04,6.78],
  [28.13,6.95],[28.39,7.01],[28.79,6.95],[28.72,7.18],[28.65,7.35],[28.16,7.48],[28.39,7.40],[27.97,7.63],[27.75,7.80],[27.53,7.91],[28.54,7.81],[29.19,7.91],[29.60,7.51],[29.95,7.69],
  [29.93,7.97],[30.15,7.91],[30.15,7.29],[30.34,7.18],[30.47,7.23],[30.64,6.92],[30.82,7.18],[30.28,7.40],[30.34,7.57],[30.54,7.40],[30.73,7.51],[30.47,7.71],[30.63,7.93],[30.92,7.57],
  [30.99,7.80],[31.19,7.63],[31.25,7.85],[30.96,8.02],[31.35,8.16],[31.68,8.25],[32.31,8.07],[30.73,8.44],[30.22,8.36],[28.03,8.35],[27.84,8.62],[31.09,8.83],[31.86,8.40],[32.22,8.59],
  [31.76,8.96],[31.85,9.18],[32.42,9.21],[33.00,9.05],[33.16,8.95],[33.11,9.44],[30.95,9.46],[33.54,8.45],
  [25.10,4.55],[25.20,4.75],[25.05,4.10],[25.15,4.25],[25.00,3.80],[24.85,3.75],[25.30,4.60],[27.35,6.30],[27.50,6.40],[27.60,6.35],[30.35,7.30],[30.40,7.45],[30.50,7.30],[30.60,7.55],
  [36.53,4.90],[35.66,5.21],[35.60,5.90],[36.79,5.92],[36.90,6.49],[36.81,6.80],[37.69,5.20],[37.87,5.30],[38.26,5.20],[38.09,5.55],[38.27,5.63],[38.48,5.43],[38.56,5.33],[38.75,4.97],
];

const INK = '#262626';
const BLACK_DOT = '#202020';
const RED_DOT = '#dc143c';
const BLUE_DOT = '#4a6ab4';
const DOT_R = 2.7;

type Frame = { left: number; right: number; top: number; bottom: number };

function drawPanel(
  svg: d3.Selection<SVGSVGElement, unknown, null, undefined>,
  frame: Frame,
  xDomain: Pair,
  yDomain: Pair,
  xTicks: number[],
  yTicks: number[],
  xFormat: (d: number) => string,
  yFormat: (d: number) => string,
  base: Pair[],
  relocated: Pair[],
  color: string,
) {
  const x = d3.scaleLinear().domain(xDomain).range([frame.left, frame.right]);
  const y = d3.scaleLinear().domain(yDomain).range([frame.top, frame.bottom]);
  const g = svg.append('g');

  const dots = (data: Pair[], fill: string) =>
    g.append('g').selectAll('circle').data(data).enter().append('circle')
      .attr('cx', d => x(d[0])).attr('cy', d => y(d[1])).attr('r', DOT_R).attr('fill', fill);
  dots(base, BLACK_DOT);
  dots(relocated, color);

  g.append('rect')
    .attr('x', frame.left).attr('y', frame.top)
    .attr('width', frame.right - frame.left).attr('height', frame.bottom - frame.top)
    .attr('fill', 'none').attr('stroke', INK).attr('stroke-width', 2);

  const xAxis = g.append('g').attr('transform', `translate(0,${frame.bottom})`)
    .call(d3.axisBottom(x).tickValues(xTicks).tickFormat(d => xFormat(+d)).tickSize(14).tickPadding(15));
  const yAxis = g.append('g').attr('transform', `translate(${frame.left},0)`)
    .call(d3.axisLeft(y).tickValues(yTicks).tickFormat(d => yFormat(+d)).tickSize(14).tickPadding(11));
  [xAxis, yAxis].forEach(a => {
    a.select('.domain').remove();
    a.selectAll('line').attr('stroke', INK).attr('stroke-width', 2);
    a.selectAll('text').attr('fill', INK).attr('font-size', 23.5).attr('font-family', 'DejaVu Sans');
  });
}

function addText(
  svg: d3.Selection<SVGSVGElement, unknown, null, undefined>,
  label: string, cx: number, cy: number, size: number, bold = false, rotate = 0,
) {
  svg.append('text')
    .attr('transform', `translate(${cx},${cy}) rotate(${rotate})`)
    .attr('text-anchor', 'middle').attr('dominant-baseline', 'central')
    .attr('font-family', 'DejaVu Sans').attr('font-size', size)
    .attr('font-weight', bold ? 'bold' : 'normal').attr('fill', INK)
    .text(label);
}

export default function App() {
  const ref = useRef<SVGSVGElement>(null);

  useEffect(() => {
    const svg = d3.select(ref.current as SVGSVGElement);
    svg.selectAll('*').remove();

    const lonDomain: Pair = [-117.9, -117.579];
    const latDomain: Pair = [36.1, 35.781];
    const distDomain: Pair = [3.52, 40.48];
    const depthDomain: Pair = [0, 13];
    const oneDec = d3.format('.1f');
    const plain = d3.format('d');
    const blank = () => '';

    drawPanel(svg, { left: 334, right: 962, top: 82, bottom: 718 }, lonDomain, latDomain,
      lonTicks, latTicks, oneDec, oneDec, catalogMap, hypoddMap, RED_DOT);
    drawPanel(svg, { left: 1338, right: 1966, top: 82, bottom: 718 }, lonDomain, latDomain,
      lonTicks, latTicks, oneDec, oneDec, catalogMap, growclustMap, BLUE_DOT);
    drawPanel(svg, { left: 173, right: 1122, top: 820, bottom: 1203 }, distDomain, depthDomain,
      distTicks, depthTicks, plain, plain, catalogSection, hypoddSection, RED_DOT);
    drawPanel(svg, { left: 1178, right: 2127, top: 820, bottom: 1203 }, distDomain, depthDomain,
      distTicks, depthTicks, plain, blank, catalogSection, growclustSection, BLUE_DOT);

    addText(svg, 'HypoDD', 648, 46, 31, true);
    addText(svg, 'Growclust', 1652, 46, 31, true);
    addText(svg, 'Longitude', 648, 784, 31);
    addText(svg, 'Longitude', 1652, 784, 31);
    addText(svg, 'Latitude', 238, 399, 32.5, false, -90);
    addText(svg, 'Latitude', 1242, 399, 32.5, false, -90);
    addText(svg, 'Depth (km)', 99, 1011, 32.5, false, -90);
    addText(svg, 'Distance (km)', 648, 1267, 31);
    addText(svg, 'Distance (km)', 1652, 1267, 31);
    addText(svg, 'B', 349, 109, 31, true, -45);
    addText(svg, 'B`', 938, 665, 31, true, -45);
  }, []);

  return (
    <svg
      ref={ref}
      width={2145}
      height={1287}
      style={{ position: 'absolute', left: 0, top: 0, background: '#fff' }}
    />
  );
}
